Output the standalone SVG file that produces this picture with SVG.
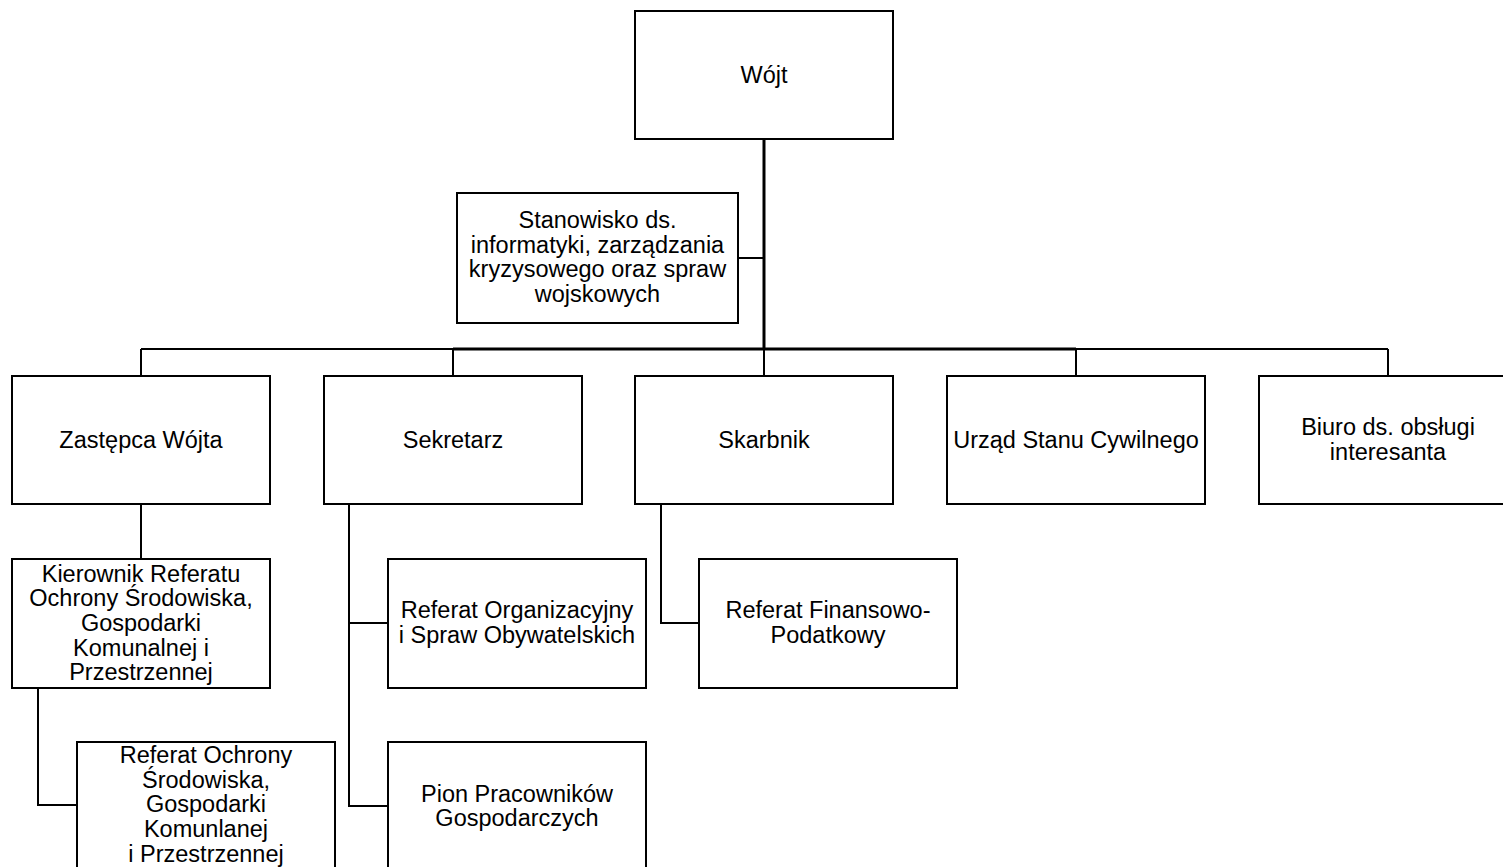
<svg xmlns="http://www.w3.org/2000/svg" width="1503" height="867" viewBox="0 0 1503 867">
<style>
.box{fill:#fff;stroke:#000;stroke-width:2}
.t{font-family:"Liberation Sans",Arial,sans-serif;font-size:23.5px;text-anchor:middle;fill:#000}
.c{fill:none;stroke:#000;stroke-width:2}
.ct{fill:none;stroke:#000;stroke-width:3}
</style>
<rect width="1503" height="867" fill="#fff"/>
<g id="connectors">
<path class="ct" d="M764 139V349"/>
<path class="c" d="M738 258H764"/>
<path class="c" d="M141 349H453M1076 349H1388"/>
<path class="ct" d="M453 349H1076"/>
<path class="c" d="M141 349V376M453 349V376M764 349V376M1076 349V376M1388 349V376"/>
<path class="c" d="M141 504V559"/>
<path class="c" d="M38 688V805H77"/>
<path class="c" d="M349 504V806H388M349 623H388"/>
<path class="c" d="M661 504V623H699"/>
</g>
<g id="wojt"><rect class="box" x="635" y="11" width="258" height="128"/><text class="t" x="764" y="83">Wójt</text></g>
<g id="stanowisko"><rect class="box" x="457" y="193" width="281" height="130"/><text class="t" x="597.5" y="228"><tspan x="597.5">Stanowisko ds.</tspan><tspan x="597.5" y="252.5">informatyki, zarządzania</tspan><tspan x="597.5" y="277">kryzysowego oraz spraw</tspan><tspan x="597.5" y="301.5">wojskowych</tspan></text></g>
<g id="zastepca"><rect class="box" x="12" y="376" width="258" height="128"/><text class="t" x="141" y="448">Zastępca Wójta</text></g>
<g id="sekretarz"><rect class="box" x="324" y="376" width="258" height="128"/><text class="t" x="453" y="448">Sekretarz</text></g>
<g id="skarbnik"><rect class="box" x="635" y="376" width="258" height="128"/><text class="t" x="764" y="448">Skarbnik</text></g>
<g id="usc"><rect class="box" x="947" y="376" width="258" height="128"/><text class="t" x="1076" y="448">Urząd Stanu Cywilnego</text></g>
<g id="biuro"><rect class="box" x="1259" y="376" width="258" height="128"/><text class="t" x="1388" y="434.5"><tspan x="1388">Biuro ds. obsługi</tspan><tspan x="1388" y="460">interesanta</tspan></text></g>
<g id="kierownik"><rect class="box" x="12" y="559" width="258" height="129"/><text class="t" x="141" y="581.5"><tspan x="141">Kierownik Referatu</tspan><tspan x="141" y="606">Ochrony Środowiska,</tspan><tspan x="141" y="630.7">Gospodarki</tspan><tspan x="141" y="655.5">Komunalnej i</tspan><tspan x="141" y="680.2">Przestrzennej</tspan></text></g>
<g id="ref-org"><rect class="box" x="388" y="559" width="258" height="129"/><text class="t" x="517" y="618.3"><tspan x="517">Referat Organizacyjny</tspan><tspan x="517" y="642.7">i Spraw Obywatelskich</tspan></text></g>
<g id="ref-fin"><rect class="box" x="699" y="559" width="258" height="129"/><text class="t" x="828" y="618.3"><tspan x="828">Referat Finansowo-</tspan><tspan x="828" y="642.7">Podatkowy</tspan></text></g>
<g id="ref-ochrony"><rect class="box" x="77" y="742" width="258" height="128"/><text class="t" x="206" y="763.3"><tspan x="206">Referat Ochrony</tspan><tspan x="206" y="787.7">Środowiska,</tspan><tspan x="206" y="812">Gospodarki</tspan><tspan x="206" y="836.6">Komunlanej</tspan><tspan x="206" y="861.5">i Przestrzennej</tspan></text></g>
<g id="pion"><rect class="box" x="388" y="742" width="258" height="128"/><text class="t" x="517" y="801.7"><tspan x="517">Pion Pracowników</tspan><tspan x="517" y="826">Gospodarczych</tspan></text></g>
</svg>
